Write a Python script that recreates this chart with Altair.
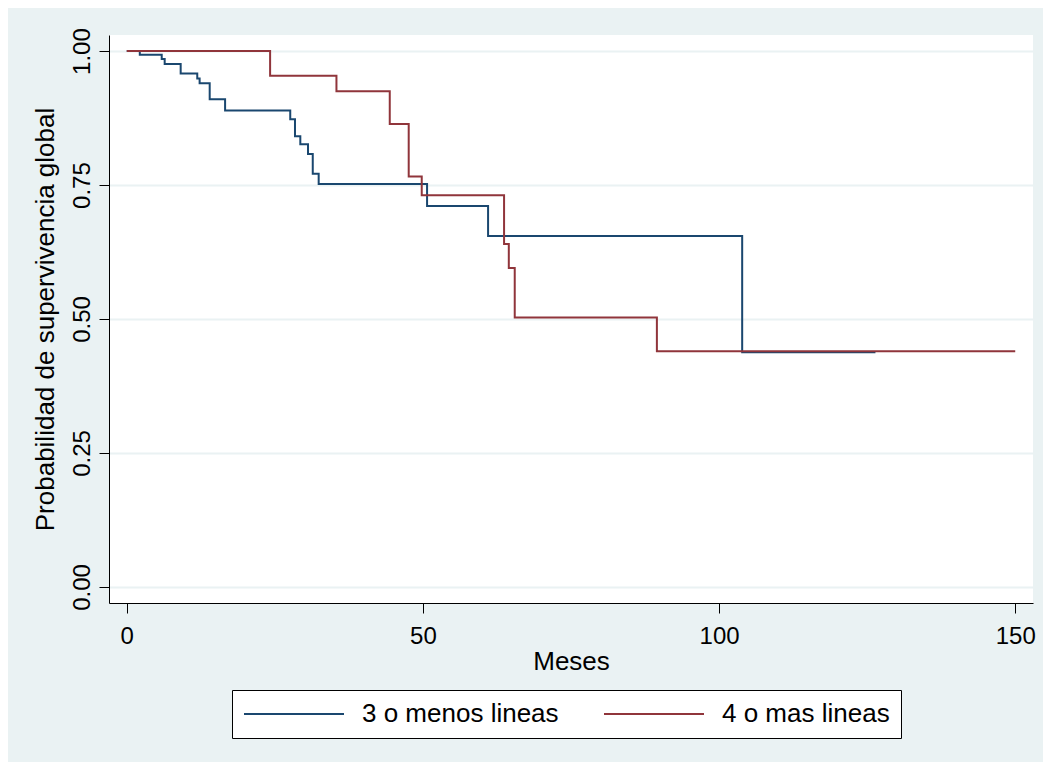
import altair as alt
import pandas as pd

# ---- data (Kaplan-Meier steps) ----
grupos = ["3 o menos lineas", "4 o mas lineas"]
colores = ["#1a476f", "#90353b"]

meses_3 = [0, 2.2, 5.9, 6.4, 9.1, 11.9, 12.3, 14.0, 16.6, 27.6, 28.4, 29.3,
           30.6, 31.4, 32.4, 50.7, 61.0, 103.9, 126.4]
surv_3 = [1.0, 0.993, 0.985, 0.976, 0.958, 0.949, 0.940, 0.910, 0.889, 0.873,
          0.841, 0.826, 0.808, 0.771, 0.752, 0.711, 0.655, 0.438, 0.438]

meses_4 = [0, 24.2, 35.4, 44.4, 47.6, 49.8, 63.7, 64.5, 65.5, 89.5, 150]
surv_4 = [1.0, 0.954, 0.925, 0.864, 0.766, 0.731, 0.640, 0.595, 0.503,
          0.440, 0.440]

x_ticks = [0, 50, 100, 150]
y_ticks = [0.0, 0.25, 0.5, 0.75, 1.0]

df = pd.concat([
    pd.DataFrame({"Meses": meses_3, "S": surv_3, "grupo": grupos[0], "orden": 0}),
    pd.DataFrame({"Meses": meses_4, "S": surv_4, "grupo": grupos[1], "orden": 1}),
], ignore_index=True)

FONT = "Liberation Sans"

chart = alt.Chart(df).mark_line(interpolate="step-after", strokeWidth=2).encode(
    x=alt.X(
        "Meses:Q",
        scale=alt.Scale(domain=[-3, 153], nice=False, zero=False),
        axis=alt.Axis(
            values=x_ticks, title="Meses", grid=False,
            tickSize=10, tickColor="#000000", domainColor="#000000",
            labelFontSize=24, labelBaseline="alphabetic", labelPadding=30,
            labelColor="#000000", labelFont=FONT,
            titleFontSize=26, titleFontWeight="normal", titleColor="#000000",
            titleFont=FONT, titleBaseline="alphabetic", titleY=66,
        ),
    ),
    y=alt.Y(
        "S:Q",
        scale=alt.Scale(domain=[-0.03, 1.03], nice=False, zero=False),
        axis=alt.Axis(
            values=y_ticks, format=".2f", title="Probabilidad de supervivencia global",
            grid=True, gridColor="#eaf2f3", gridWidth=2,
            tickSize=10, tickColor="#000000", domainColor="#000000",
            labelFontSize=24, labelAngle=270, labelAlign="center",
            labelBaseline="alphabetic", labelPadding=10,
            labelColor="#000000", labelFont=FONT,
            titleFontSize=26, titleFontWeight="normal", titleColor="#000000",
            titleFont=FONT, titleAngle=270, titleAlign="center",
            titleBaseline="alphabetic", titleX=-56,
        ),
    ),
    color=alt.Color(
        "grupo:N",
        title=None,
        scale=alt.Scale(domain=grupos, range=colores),
        legend=alt.Legend(
            orient="none", legendX=123, legendY=655, direction="horizontal",
            fillColor="white", strokeColor="#000000", padding=11,
            symbolType="stroke", symbolSize=10000, symbolStrokeWidth=2,
            clipHeight=26,
            labelFontSize=26, labelFont=FONT, labelColor="#000000",
            labelOffset=17, labelLimit=400, columnPadding=44,
        ),
    ),
    order=alt.Order("orden:Q"),
).properties(
    width=924,
    height=568,
    background="#eaf2f3",
    padding={"left": 101, "top": 27, "right": 10, "bottom": 159},
    autosize=alt.AutoSizeParams(type="none"),
).configure(
    font=FONT
).configure_view(
    fill="white", stroke="transparent", strokeWidth=0
)

chart.save("out.html", embed_options={"renderer": "svg", "actions": False})
